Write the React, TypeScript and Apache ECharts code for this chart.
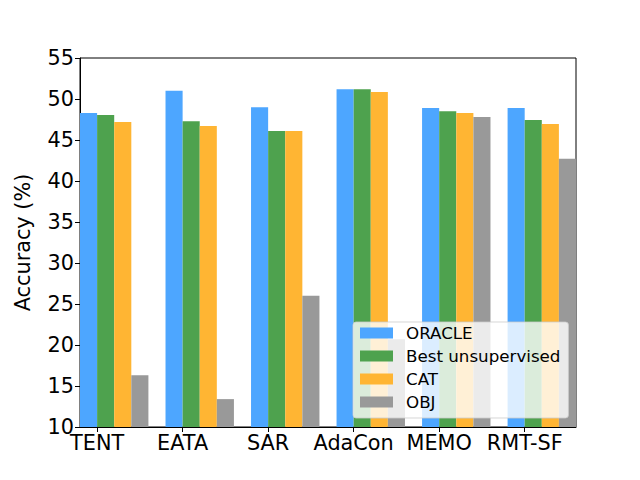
import React, { useEffect, useRef } from "react";
import * as echarts from "echarts";

const categories = ["TENT", "EATA", "SAR", "AdaCon", "MEMO", "RMT-SF"];
const oracle = [48.3, 51.0, 49.0, 51.2, 48.9, 48.9];
const bestUnsupervised = [48.05, 47.3, 46.1, 51.2, 48.5, 47.45];
const catValues = [47.2, 46.7, 46.1, 50.85, 48.3, 46.95];
const objValues = [16.3, 13.4, 26.0, 20.7, 47.8, 42.7];
const seriesNames = ["ORACLE", "Best unsupervised", "CAT", "OBJ"];
const seriesColors = ["#4da6ff", "#4ea24e", "#ffb533", "#999999"];
const yTicks = [10, 15, 20, 25, 30, 35, 40, 45, 50, 55];

const FONT = "DejaVu Sans";
const BAR_W = 0.2;

export default function App() {
  const ref = useRef<HTMLDivElement>(null);
  useEffect(() => {
    if (!ref.current) return;
    const chart = echarts.init(ref.current, null, { renderer: "svg" });
    const all = [oracle, bestUnsupervised, catValues, objValues];
    const offsets = [-0.1, 0.1, 0.3, 0.5];
    const series = all.map((vals, k) => ({
      type: "custom",
      name: seriesNames[k],
      itemStyle: { color: seriesColors[k] },
      clip: true,
      encode: { x: 0, y: 1 },
      data: vals.map((v, i) => [i + offsets[k], v]),
      renderItem: (params: any, api: any) => {
        const x = api.value(0);
        const y = api.value(1);
        const p0 = api.coord([x - BAR_W / 2, y]);
        const p1 = api.coord([x + BAR_W / 2, yTicks[0]]);
        return {
          type: "rect",
          shape: { x: p0[0], y: p0[1], width: p1[0] - p0[0], height: p1[1] - p0[1] },
          style: { fill: api.visual("color") },
        };
      },
    }));
    const catIdx = categories.map((_, i) => i);
    chart.setOption({
      animation: false,
      textStyle: { fontFamily: FONT },
      grid: {
        left: 80,
        top: 58,
        right: 64,
        bottom: 53,
        outerBoundsMode: "none",
        containLabel: false,
        show: true,
        borderColor: "#000",
        borderWidth: 1,
        backgroundColor: "transparent",
      },
      legend: {
        orient: "vertical",
        left: 353,
        top: 322,
        icon: "rect",
        itemWidth: 33,
        itemHeight: 11,
        itemGap: 6,
        padding: [2.5, 8, 7.5, 7],
        backgroundColor: "rgba(255,255,255,0.8)",
        borderColor: "rgba(204,204,204,0.8)",
        borderWidth: 1,
        borderRadius: 3,
        textStyle: { fontFamily: FONT, fontSize: 16.7, color: "#000", padding: [0, 0, 0, 8] },
        data: seriesNames,
      },
      xAxis: {
        type: "value",
        min: -0.2,
        max: 5.6,
        axisLine: { show: true, onZero: false, lineStyle: { color: "#000", width: 1 } },
        axisTick: {
          show: true,
          inside: false,
          length: 5,
          lineStyle: { color: "#000", width: 1 },
          customValues: catIdx,
        },
        axisLabel: {
          show: true,
          customValues: catIdx,
          margin: 5,
          fontFamily: FONT,
          fontSize: 20.8,
          color: "#000",
          formatter: (v: number) => categories[Math.round(v)] ?? "",
        },
        splitLine: { show: false },
      },
      yAxis: {
        type: "value",
        min: 10,
        max: 55,
        interval: 5,
        name: "Accuracy (%)",
        nameLocation: "middle",
        nameGap: 47,
        nameTextStyle: { fontFamily: FONT, fontSize: 20.8, color: "#000" },
        axisLine: { show: true, onZero: false, lineStyle: { color: "#000", width: 1 } },
        axisTick: { show: true, inside: false, length: 5, lineStyle: { color: "#000", width: 1 } },
        axisLabel: { fontFamily: FONT, fontSize: 20.8, color: "#000", margin: 6 },
        splitLine: { show: false },
      },
      series,
    });
    return () => chart.dispose();
  }, []);
  return (
    <div
      ref={ref}
      style={{ position: "absolute", left: 0, top: 0, width: 640, height: 480 }}
    />
  );
}
